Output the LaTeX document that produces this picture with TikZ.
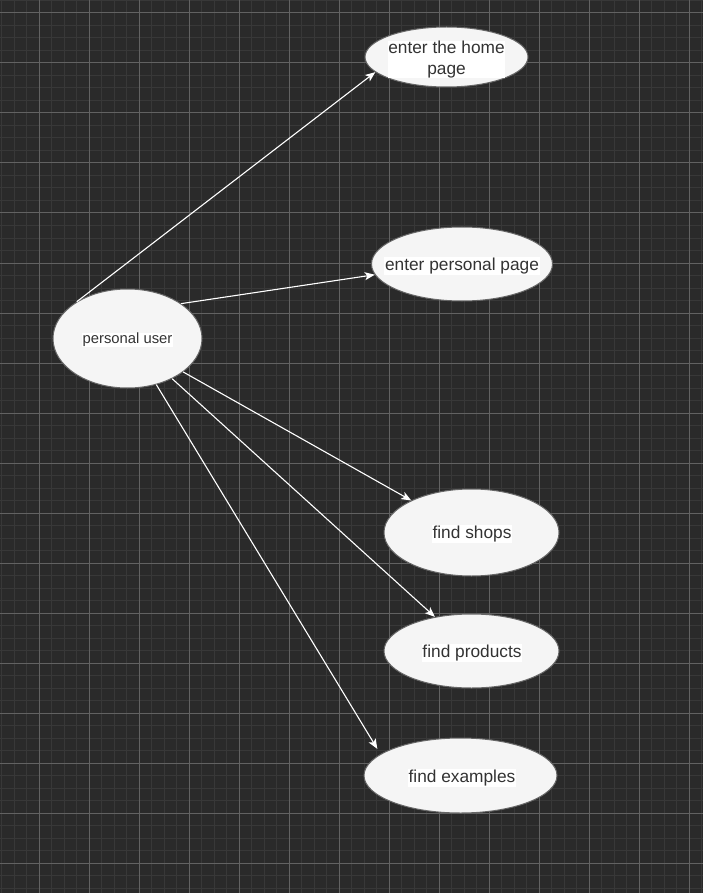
\documentclass[tikz,border=0pt]{standalone}
\usepackage{fontspec}
\setmainfont{Liberation Sans}
\usetikzlibrary{shapes.geometric,arrows.meta}
\definecolor{bg}{HTML}{2A2A2A}
\definecolor{minorline}{HTML}{383838}
\definecolor{majorline}{HTML}{626262}
\definecolor{ellfill}{HTML}{F5F5F5}
\definecolor{ellgray}{HTML}{666666}
\definecolor{txt}{HTML}{333333}
\begin{document}
\begin{tikzpicture}[x=1pt,y=-1pt,
  uc/.style={ellipse,draw=ellgray,fill=ellfill,line width=1pt,inner sep=0pt},
  lbl/.style={fill=white,text=txt,inner sep=0.6pt,font=\fontsize{17.3}{20.5}\selectfont,align=center},
  slbl/.style={fill=white,text=txt,inner sep=0.6pt,font=\fontsize{14.8}{17}\selectfont,align=center},
  conn/.style={draw=white,line width=1.1pt,-{Stealth[length=10pt,width=8pt,inset=2.5pt]}}]
\useasboundingbox (0,0) rectangle (703,893);
\fill[bg] (0,0) rectangle (703,893);
% minor grid
\foreach \k in {0,...,56} {
  \draw[minorline,line width=1pt] ({1.5+12.5*\k},0) -- ({1.5+12.5*\k},893);
}
\foreach \k in {0,...,71} {
  \draw[minorline,line width=1pt] (0,{0.5+12.5*\k}) -- (703,{0.5+12.5*\k});
}
% major grid
\foreach \k in {0,...,13} {
  \draw[majorline,line width=1pt] ({39+50*\k},0) -- ({39+50*\k},893);
}
\foreach \k in {0,...,17} {
  \draw[majorline,line width=1pt] (0,{13+50*\k}) -- (703,{13+50*\k});
}
% use cases
\node[uc,minimum width=149pt,minimum height=99pt] (pu) at (127.5,338.5) {};
\node[slbl] (put) at (127.5,340) {personal user};
\node[uc,minimum width=163pt,minimum height=60pt] (home) at (446.5,57) {};
\node[lbl] (homet) at (446.5,59.5) {enter the home\\page};
\node[uc,minimum width=181pt,minimum height=74pt] (ppage) at (462,264) {};
\node[lbl] (ppaget) at (462,266) {enter personal page};
\node[uc,minimum width=175pt,minimum height=87pt] (shops) at (471.5,532.5) {};
\node[lbl] (shopst) at (472,534) {find shops};
\node[uc,minimum width=175pt,minimum height=74pt] (prod) at (471.5,651) {};
\node[lbl] (prodt) at (472,653) {find products};
\node[uc,minimum width=193pt,minimum height=75pt] (ex) at (460.5,775.5) {};
\node[lbl] (ext) at (462,778) {find examples};
% connectors
\draw[conn] (pu.144.5) -- (home.192);
\draw[conn] (pu.33.3) -- (ppage.187.3);
\draw[conn] (pu.-31) -- (shops.152.5);
\draw[conn] (pu.-42.2) -- (prod.137.8);
\draw[conn,shorten >=6pt] (pu.-58.9) -- (ex.165);
\end{tikzpicture}
\end{document}
